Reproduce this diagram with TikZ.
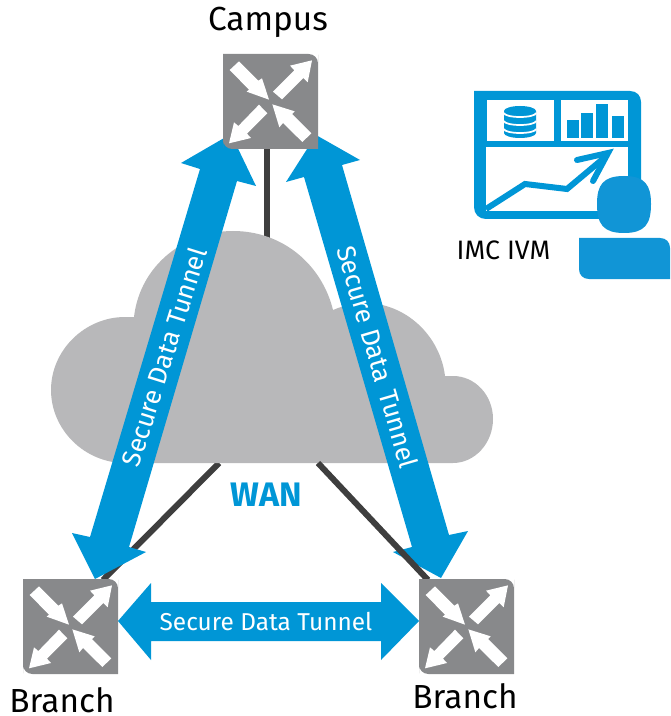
\documentclass[tikz,border=0pt]{standalone}
\usepackage{fontspec}
\setmainfont{Fira Sans}
\definecolor{tunnelblue}{HTML}{0096D6}
\definecolor{personblue}{HTML}{1195D6}
\definecolor{switchgray}{HTML}{88898B}
\definecolor{cloudgray}{HTML}{B8B8BA}
\definecolor{linkdark}{HTML}{3E3E3E}
\tikzset{
  switchbox/.style={minimum size=71.25pt,inner sep=0pt,draw=none,fill=none},
  tunnel/.style={fill=tunnelblue,draw=none},
  wanlink/.style={draw=linkdark,line width=4.5pt},
  tunnellabel/.style={text=white,font=\fontsize{18.3}{22}\selectfont,inner sep=0pt},
  slantlabel/.style={text=white,font=\fontsize{19.6}{23}\selectfont,inner sep=0pt},
  sitelabel/.style={text=black,font=\fontsize{25}{29}\selectfont,inner sep=0pt,anchor=base},
  swicons/.pic={
    \fill[switchgray,rounded corners=0pt] (0,0) -- (85,0) [rounded corners=7pt] -- (95,0) -- (95,10) [rounded corners=0pt] -- (95,95) -- (10,95) [rounded corners=7pt] -- (0,95) -- (0,85) [rounded corners=0pt] -- cycle;
    \begin{scope}[shift={(-23.33,-24)},x=0.25pt,y=-0.25pt,fill=white]
      \fill (90,120) -- (118,94) -- (176,152) -- (187,145) -- (208,209) -- (141,185) -- (148,179) -- cycle;
      \fill (220,185) -- (284,121) -- (271,107) -- (337,91) -- (324,157) -- (311,144) -- (247,208) -- cycle;
      \fill (178,224) -- (116,288) -- (103,277) -- (88,340) -- (154,324) -- (142,311) -- (203,250) -- cycle;
      \fill (335,310) -- (277,252) -- (285,244) -- (218,223) -- (239,292) -- (250,279) -- (308,336) -- cycle;
    \end{scope}
  }
}
\begin{document}
\begin{tikzpicture}[x=0.75pt,y=-0.75pt]
\useasboundingbox (0,0) rectangle (670,716);
% switches anchors
\node[switchbox] (campus) at (270.5,101.5) {};
\node[switchbox] (branchL) at (70.5,626.5) {};
\node[switchbox] (branchR) at (466.5,626.5) {};
\coordinate (cloudTop) at (267,240);
\coordinate (cloudL) at (219,463);
\coordinate (cloudR) at (318,463);
\coordinate (footL) at (103,580);
\coordinate (footR) at (428,580);
% links behind the cloud
\draw[wanlink] (campus.south -| cloudTop) -- (cloudTop);
\draw[wanlink] (cloudL) -- (footL);
% cloud
\fill[cloudgray] (125,463) .. controls (85,463) and (51,430) .. (51,390)
  .. controls (51,350) and (85,317) .. (125,317) -- (134,317)
  .. controls (140,265) and (185,231) .. (233,231)
  .. controls (283,231) and (322,265) .. (333,310)
  .. controls (345,305) and (355,303) .. (365,303)
  .. controls (405,303) and (440,335) .. (445,376) -- (453,376)
  .. controls (475,376) and (493,395) .. (493,419)
  .. controls (493,443) and (475,463) .. (453,463) -- cycle;
% tunnels
\fill[tunnel] (231,134) -- (256,186) -- (237,181) -- (129,547) -- (146,552) -- (95,579) -- (72,533) -- (90,537) -- (200,169) -- (181,163) -- cycle;
\fill[tunnel] (316,135) -- (360,160) -- (342,165) -- (449,535) -- (468,531) -- (441,578) -- (393,552) -- (412,547) -- (304,177) -- (286,182) -- cycle;
\fill[tunnel] (118,621) -- (151,583) -- (151,602) -- (381,602) -- (381,583) -- (419,621) -- (381,660) -- (381,641) -- (151,641) -- (151,660) -- cycle;
\draw[wanlink] (cloudR) -- (footR);
% switches
\path (223,54) pic {swicons};
\path (23,579) pic {swicons};
\path (419,579) pic {swicons};
% labels
\node[slantlabel,rotate=72.5] (t1) at (164,357) {Secure Data Tunnel};
\node[slantlabel,rotate=-73.7] (t2) at (378,357) {Secure Data\hspace{0.1em} Tunnel};
\node[tunnellabel] (t3) at (266,621) {Secure Data Tunnel};
\node[sitelabel] (campusL) at (268,31) {Campus};
\node[sitelabel] (brL) at (62,712) {Branch};
\node[sitelabel] (brR) at (465,708) {Branch};
\node[text=tunnelblue,font=\fontsize{25.5}{30}\bfseries\selectfont,inner sep=0pt,anchor=base] (wan) at (266,506) {WAN};
\node[text=black,font=\fontsize{20}{24}\selectfont,inner sep=0pt,anchor=base] (imc) at (503.5,260) {IMC IVM};
% monitor
\fill[tunnelblue] (474,91) -- (630,91) .. controls (637,91) and (641,96) .. (641,102) -- (641,219) -- (486,219) .. controls (479,219) and (474,214) .. (474,207) -- cycle;
\fill[white] (487,100) rectangle (554,141);
\fill[white] (561,100) rectangle (628,141);
\fill[white] (486,147) rectangle (628,211);
% database
\fill[tunnelblue] (504,111) arc[start angle=180,end angle=360,x radius=16,y radius=5] -- (536,133) arc[start angle=0,end angle=180,x radius=16,y radius=5] -- cycle;
\draw[white,line width=1.3pt] (504,113) arc[start angle=180,end angle=0,x radius=16,y radius=4];
\draw[white,line width=1.3pt] (504,121) arc[start angle=180,end angle=0,x radius=16,y radius=4];
\draw[white,line width=1.3pt] (504,129) arc[start angle=180,end angle=0,x radius=16,y radius=4];
% bars
\fill[tunnelblue] (567,120) rectangle (579,138);
\fill[tunnelblue] (581,113) rectangle (593,138);
\fill[tunnelblue] (596,104) rectangle (608,138);
\fill[tunnelblue] (612,116) rectangle (624,138);
% chart
\draw[tunnelblue,line width=4.5pt,line join=miter] (486,209) -- (525,184) -- (567,189) -- (604,158);
\draw[tunnelblue,line width=4.5pt,line cap=round,line join=miter] (577,160) -- (608,153) -- (593,181);
% person
\fill[personblue] (624,176) .. controls (645,176) and (651,185) .. (651,204) .. controls (651,224) and (645,233) .. (624,233) .. controls (603,233) and (597,224) .. (597,204) .. controls (597,185) and (603,176) .. (624,176) -- cycle;
\fill[personblue] (579,238) -- (660,238) .. controls (666,238) and (670,242) .. (670,248) -- (670,279) -- (589,279) .. controls (583,279) and (579,275) .. (579,269) -- cycle;
\end{tikzpicture}
\end{document}
